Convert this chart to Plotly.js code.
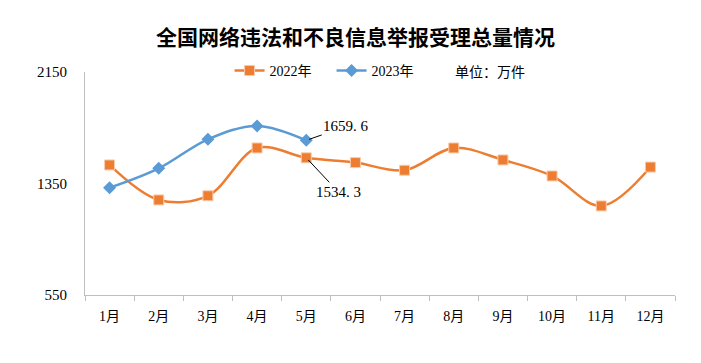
<!DOCTYPE html>
<html>
<head>
<meta charset="utf-8">
<script src="https://cdn.plot.ly/plotly-3.0.1.min.js"></script>
<style>html,body{margin:0;padding:0;background:#fff}#chart{width:701px;height:363px}</style>
</head>
<body>
<div id="chart"></div>
<script>
const months = ["1月","2月","3月","4月","5月","6月","7月","8月","9月","10月","11月","12月"];
const months2023 = ["1月","2月","3月","4月","5月"];
const values2022 = [1483, 1232, 1262, 1605, 1534.3, 1500, 1445, 1605, 1519, 1404, 1189, 1468];
const values2023 = [1320, 1459, 1667, 1763, 1659.6];
const yTicks = [550, 1350, 2150];
const seriesNames = ["2022年", "2023年"];

const serif = "'Liberation Serif', 'Times New Roman', 'Noto Sans CJK SC', serif";
const cjk = "'Noto Sans CJK SC', sans-serif";

const traces = [
  {
    x: months, y: values2022, name: seriesNames[0], type: "scatter", mode: "lines+markers",
    line: {color: "#ED7D31", width: 2.5, shape: "spline", smoothing: 1},
    marker: {symbol: "square", size: 10, color: "#ED7D31", line: {color: "#F8CBAD", width: 1}}
  },
  {
    x: months2023, y: values2023, name: seriesNames[1], type: "scatter", mode: "lines+markers",
    line: {color: "#5B9BD5", width: 2.5, shape: "spline", smoothing: 1},
    marker: {symbol: "diamond", size: 10, color: "#5B9BD5"}
  }
];

const last2022 = 4, last2023 = values2023.length - 1;

const layout = {
  width: 701, height: 363,
  margin: {l: 85, r: 26, t: 72, b: 68},
  paper_bgcolor: "#fff", plot_bgcolor: "#fff",
  showlegend: true,
  title: {
    text: "全国网络违法和不良信息举报受理总量情况",
    font: {family: cjk, size: 21, color: "#000", weight: "bold"},
    x: 0.507, xanchor: "center", y: 0.895, yanchor: "middle"
  },
  legend: {
    orientation: "h", x: 0.245, xanchor: "left", y: 1.005, yanchor: "middle",
    font: {family: serif, size: 14, color: "#000"},
    itemwidth: 30, entrywidth: 57, entrywidthmode: "pixels",
    tracegroupgap: 0, bgcolor: "rgba(0,0,0,0)"
  },
  xaxis: {
    type: "category", categoryarray: months, range: [-0.5, 11.5],
    showline: true, linecolor: "#BFBFBF", linewidth: 1,
    ticks: "outside", tickson: "boundaries", ticklen: 5, tickcolor: "#BFBFBF",
    showgrid: false, zeroline: false, ticklabelstandoff: 8,
    tickfont: {family: serif, size: 14, color: "#000"}
  },
  yaxis: {
    range: [550, 2150], tickvals: yTicks, ticktext: yTicks.map(String),
    showline: true, linecolor: "#BFBFBF", linewidth: 1,
    ticks: "", showgrid: false, zeroline: false, ticklabelstandoff: 14,
    tickfont: {family: serif, size: 15, color: "#000"}
  },
  annotations: [
    {
      x: months2023[last2023], y: values2023[last2023], xref: "x", yref: "y",
      text: values2023[last2023].toFixed(1).replace(".", ". "),
      showarrow: true, arrowhead: 0, arrowwidth: 1, arrowcolor: "#000",
      ax: 40, ay: -14, standoff: 3,
      font: {family: serif, size: 15, color: "#000"}
    },
    {
      x: months[last2022], y: values2022[last2022], xref: "x", yref: "y",
      text: values2022[last2022].toFixed(1).replace(".", ". "),
      showarrow: true, arrowhead: 0, arrowwidth: 1, arrowcolor: "#000",
      ax: 32, ay: 34, standoff: 3,
      font: {family: serif, size: 15, color: "#000"}
    },
    {
      x: 0.686, y: 1.005, xref: "paper", yref: "paper", xanchor: "center", yanchor: "middle",
      text: "单位：万件", showarrow: false,
      font: {family: cjk, size: 14, color: "#000"}
    }
  ]
};

Plotly.newPlot("chart", traces, layout, {displayModeBar: false, responsive: false});
</script>
</body>
</html>
